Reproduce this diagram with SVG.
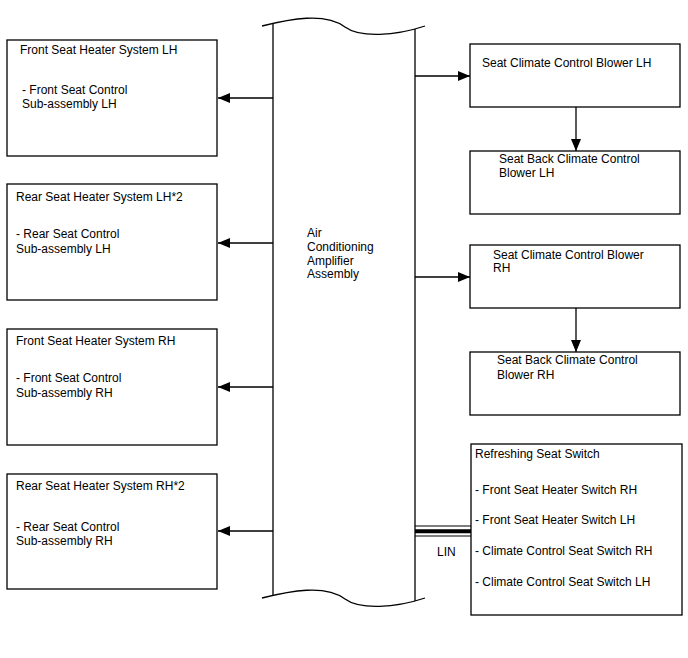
<svg xmlns="http://www.w3.org/2000/svg" width="688" height="658" viewBox="0 0 688 658">
<style>
.box{fill:#fff;stroke:#000;stroke-width:1.3}
.ln{fill:none;stroke:#000;stroke-width:1.3}
text{font-family:"Liberation Sans",Arial,sans-serif;font-size:12px;fill:#000}
</style>
<defs>
<marker id="ah" markerUnits="userSpaceOnUse" markerWidth="12" markerHeight="10" refX="12" refY="5" orient="auto">
<path d="M0,0 L12,5 L0,10 z" fill="#000"/>
</marker>
</defs>
<rect width="688" height="658" fill="#fff"/>
<g id="amp">
<path class="ln" d="M262,26 C290,19 325,12 345,27 C360,38 395,36 425,26"/>
<path class="ln" d="M262,598 C290,591 325,584 345,599 C360,610 395,608 425,598"/>
<line class="ln" x1="273" y1="23" x2="273" y2="595"/>
<line class="ln" x1="415" y1="29" x2="415" y2="601"/>
<text x="307" y="237">Air</text>
<text x="307" y="251">Conditioning</text>
<text x="307" y="265">Amplifier</text>
<text x="307" y="278">Assembly</text>
</g>
<g id="fshlh">
<rect class="box" x="7" y="40" width="210" height="116"/>
<text x="20" y="54">Front Seat Heater System LH</text>
<text x="22" y="94">- Front Seat Control</text>
<text x="22" y="108">Sub-assembly LH</text>
</g>
<g id="rshlh">
<rect class="box" x="7" y="184" width="210" height="116"/>
<text x="16" y="201">Rear Seat Heater System LH*2</text>
<text x="16" y="238">- Rear Seat Control</text>
<text x="16" y="253">Sub-assembly LH</text>
</g>
<g id="fshrh">
<rect class="box" x="7" y="329" width="210" height="116"/>
<text x="16" y="345">Front Seat Heater System RH</text>
<text x="16" y="382">- Front Seat Control</text>
<text x="16" y="397">Sub-assembly RH</text>
</g>
<g id="rshrh">
<rect class="box" x="7" y="474" width="210" height="115"/>
<text x="16" y="490">Rear Seat Heater System RH*2</text>
<text x="16" y="531">- Rear Seat Control</text>
<text x="16" y="545">Sub-assembly RH</text>
</g>
<g id="sccblh">
<rect class="box" x="470" y="44" width="210" height="63"/>
<text x="482" y="67">Seat Climate Control Blower LH</text>
</g>
<g id="sbccblh">
<rect class="box" x="470" y="151" width="210" height="63"/>
<text x="499" y="163">Seat Back Climate Control</text>
<text x="499" y="177">Blower LH</text>
</g>
<g id="sccbrh">
<rect class="box" x="470" y="245" width="210" height="63"/>
<text x="493" y="259">Seat Climate Control Blower</text>
<text x="493" y="272">RH</text>
</g>
<g id="sbccbrh">
<rect class="box" x="470" y="352" width="210" height="63"/>
<text x="497" y="364">Seat Back Climate Control</text>
<text x="497" y="379">Blower RH</text>
</g>
<g id="rss">
<rect class="box" x="471" y="444" width="211" height="171"/>
<text x="475" y="458">Refreshing Seat Switch</text>
<text x="475" y="494">- Front Seat Heater Switch RH</text>
<text x="475" y="524">- Front Seat Heater Switch LH</text>
<text x="475" y="555">- Climate Control Seat Switch RH</text>
<text x="475" y="586">- Climate Control Seat Switch LH</text>
</g>
<g id="connectors">
<line class="ln" x1="273" y1="98" x2="218" y2="98" marker-end="url(#ah)"/>
<line class="ln" x1="273" y1="243" x2="218" y2="243" marker-end="url(#ah)"/>
<line class="ln" x1="273" y1="387" x2="218" y2="387" marker-end="url(#ah)"/>
<line class="ln" x1="273" y1="531" x2="218" y2="531" marker-end="url(#ah)"/>
<line class="ln" x1="415" y1="76" x2="470" y2="76" marker-end="url(#ah)"/>
<line class="ln" x1="415" y1="277" x2="470" y2="277" marker-end="url(#ah)"/>
<line class="ln" x1="576" y1="107" x2="576" y2="151" marker-end="url(#ah)"/>
<line class="ln" x1="576" y1="308" x2="576" y2="352" marker-end="url(#ah)"/>
<line x1="415" y1="526" x2="471" y2="526" stroke="#000" stroke-width="1.2"/>
<line x1="415" y1="531.3" x2="471" y2="531.3" stroke="#000" stroke-width="4"/>
<line x1="415" y1="536" x2="471" y2="536" stroke="#000" stroke-width="1.2"/>
<text x="437" y="556">LIN</text>
</g>
</svg>
